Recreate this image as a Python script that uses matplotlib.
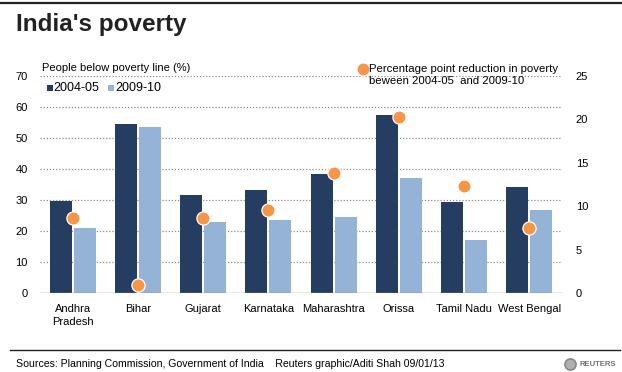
import numpy as np
import matplotlib
matplotlib.use("Agg")
import matplotlib.pyplot as plt
from matplotlib.lines import Line2D

plt.rcParams['font.family'] = ['Liberation Sans', 'DejaVu Sans']

# data
states = ['Andhra\nPradesh', 'Bihar', 'Gujarat', 'Karnataka', 'Maharashtra',
          'Orissa', 'Tamil Nadu', 'West Bengal']
pov_2004 = [29.7, 54.5, 31.6, 33.2, 38.4, 57.4, 29.4, 34.2]
pov_2009 = [21.0, 53.5, 22.9, 23.6, 24.5, 37.1, 17.1, 26.8]
reduction = [8.6, 0.9, 8.6, 9.6, 13.8, 20.3, 12.3, 7.5]

dark = '#253D60'
light = '#95B3D7'
orange = '#F79646'

fig = plt.figure(figsize=(6.22, 3.72), dpi=100)
W, H = 622, 372
ax = fig.add_axes([40 / W, 1 - 293 / H, 522 / W, 217 / H])

x = np.arange(len(states))
bw = 22 / 65
off = 12 / 65
ax.bar(x - off, pov_2004, width=bw, color=dark, zorder=3)
ax.bar(x + off, pov_2009, width=bw, color=light, zorder=3)

ax.set_xlim(-0.5, len(states) - 0.5)
ax.set_ylim(0, 70)
ax.set_yticks(range(0, 71, 10))
for v in range(10, 71, 10):
    ax.axhline(v, color='#8c8c8c', lw=0.9, ls=(0, (1, 1.5)), zorder=1)
ax.axhline(0, color='#8c8c8c', lw=1, zorder=4)
for s in ax.spines.values():
    s.set_visible(False)
ax.tick_params(axis='y', length=0, pad=9, labelsize=8)
ax.tick_params(axis='x', length=0, pad=8, labelsize=8)
ax.set_xticks(x)
ax.set_xticklabels(states, linespacing=1.3)

ax2 = ax.twinx()
ax2.set_ylim(0, 25)
ax2.set_yticks(range(0, 26, 5))
for s in ax2.spines.values():
    s.set_visible(False)
ax2.tick_params(axis='y', length=0, pad=10, labelsize=8)
ax2.plot(x, reduction, 'o', ms=9.5, color=orange, mec='white', mew=0.9,
         ls='none', zorder=5, clip_on=False)

# title and top rule
fig.add_artist(Line2D([0, 1], [1 - 3 / H, 1 - 3 / H], color='#222222', lw=1.6))
fig.text(16 / W, 1 - 24 / H, "India's poverty", fontsize=17.5, fontweight='bold',
         color='#222222', va='center', ha='left')

# left axis label + legend
fig.text(42 / W, 1 - 68 / H, 'People below poverty line (%)', fontsize=8,
         va='center', ha='left')
fig.add_artist(Line2D([49.5 / W], [1 - 88 / H], marker='s', ms=4, color=dark, mew=0))
fig.text(53 / W, 1 - 88 / H, '2004-05', fontsize=9, va='center')
fig.add_artist(Line2D([110.5 / W], [1 - 88 / H], marker='s', ms=4, color=light, mew=0))
fig.text(115 / W, 1 - 88 / H, '2009-10', fontsize=9, va='center')

# right annotation
fig.add_artist(Line2D([363 / W], [1 - 69 / H], marker='o', ms=9.5, color=orange,
                      mec='white', mew=0.9))
fig.text(369 / W, 1 - 75 / H,
         'Percentage point reduction in poverty\nbeween 2004-05  and 2009-10',
         fontsize=8.2, va='center', ha='left', linespacing=1.25)

# footer
fig.add_artist(Line2D([10 / W, 620 / W], [1 - 350 / H, 1 - 350 / H],
                      color='#222222', lw=1))
fig.text(16 / W, 1 - 364 / H,
         'Sources: Planning Commission, Government of India    '
         'Reuters graphic/Aditi Shah 09/01/13',
         fontsize=7.6, va='center', ha='left')
fig.add_artist(Line2D([570 / W], [1 - 364 / H], marker='o', ms=8, color='#b0b0b0',
                      mec='#888888', mew=1.2))
fig.text(579 / W, 1 - 364 / H, 'REUTERS', fontsize=5.5, fontweight='bold',
         color='#707070', va='center', ha='left')

fig.savefig('out.png', dpi=100)
